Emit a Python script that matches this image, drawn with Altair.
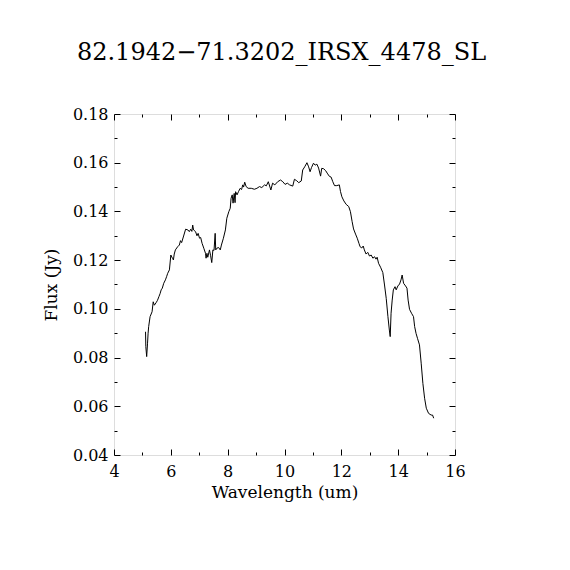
import altair as alt
import pandas as pd

title_text = "82.1942\u221271.3202_IRSX_4478_SL"

wavelength = [5.11, 5.12, 5.15, 5.18, 5.20, 5.22, 5.27, 5.34, 5.38, 5.42, 5.48, 5.53, 5.58, 5.62,
              5.66, 5.70, 5.75, 5.81, 5.85, 5.89, 5.95, 6.00, 6.06, 6.09, 6.12, 6.16, 6.24, 6.30,
              6.34, 6.38, 6.45, 6.52, 6.60, 6.65, 6.70, 6.74, 6.77, 6.80, 6.87, 6.92, 6.96, 7.01,
              7.05, 7.10, 7.16, 7.22, 7.24, 7.27, 7.30, 7.36, 7.40, 7.44, 7.48, 7.52, 7.56, 7.58,
              7.62, 7.68, 7.74, 7.78, 7.85, 7.92, 7.97, 8.04, 8.09, 8.12, 8.16, 8.19, 8.23, 8.26,
              8.28, 8.33, 8.38, 8.44, 8.49, 8.53, 8.56, 8.60, 8.65, 8.72, 8.83, 8.94, 9.03, 9.12,
              9.20, 9.30, 9.36, 9.43, 9.52, 9.58, 9.66, 9.76, 9.86, 9.94, 10.02, 10.10, 10.18,
              10.29, 10.35, 10.43, 10.50, 10.59, 10.64, 10.71, 10.79, 10.85, 10.90, 10.95, 11.02,
              11.08, 11.14, 11.20, 11.27, 11.31, 11.38, 11.45, 11.52, 11.58, 11.64, 11.70, 11.76,
              11.84, 11.93, 11.97, 12.02, 12.09, 12.17, 12.26, 12.32, 12.38, 12.43, 12.50, 12.56,
              12.62, 12.66, 12.72, 12.77, 12.81, 12.87, 12.93, 12.99, 13.05, 13.11, 13.17, 13.22,
              13.26, 13.31, 13.38, 13.46, 13.52, 13.58, 13.64, 13.69, 13.72, 13.75, 13.79, 13.83,
              13.89, 13.93, 13.99, 14.05, 14.10, 14.14, 14.19, 14.26, 14.31, 14.35, 14.40, 14.47,
              14.54, 14.58, 14.63, 14.68, 14.75, 14.81, 14.87, 14.93, 14.99, 15.07, 15.16, 15.21,
              15.25]

flux = [0.0906, 0.0845, 0.0804, 0.0859, 0.0900, 0.0927, 0.0968, 0.0988, 0.1029, 0.1015, 0.1025,
        0.1035, 0.1050, 0.1062, 0.1078, 0.1085, 0.1105, 0.1119, 0.1132, 0.1146, 0.1160, 0.1221,
        0.1207, 0.1201, 0.1225, 0.1242, 0.1255, 0.1262, 0.1280, 0.1272, 0.1299, 0.1327, 0.1324,
        0.1317, 0.1327, 0.1318, 0.1344, 0.1324, 0.1317, 0.1300, 0.1310, 0.1290, 0.1293, 0.1269,
        0.1249, 0.1228, 0.1208, 0.1228, 0.1212, 0.1242, 0.1218, 0.1190, 0.1242, 0.1240, 0.1310,
        0.1242, 0.1249, 0.1252, 0.1242, 0.1262, 0.1290, 0.1324, 0.1372, 0.1399, 0.1413, 0.1454,
        0.1468, 0.1434, 0.1474, 0.1436, 0.1481, 0.1468, 0.1481, 0.1495, 0.1490, 0.1509, 0.1500,
        0.1520, 0.1502, 0.1495, 0.1495, 0.1491, 0.1495, 0.1502, 0.1498, 0.1509, 0.1505, 0.1522,
        0.1488, 0.1516, 0.1509, 0.1522, 0.1529, 0.1522, 0.1511, 0.1516, 0.1509, 0.1504, 0.1532,
        0.1526, 0.1518, 0.1525, 0.1570, 0.1583, 0.1600, 0.1583, 0.1563, 0.1580, 0.1598, 0.1590,
        0.1594, 0.1578, 0.1545, 0.1577, 0.1575, 0.1567, 0.1554, 0.1544, 0.1541, 0.1522, 0.1506,
        0.1506, 0.1509, 0.1482, 0.1460, 0.1443, 0.1429, 0.1420, 0.1399, 0.1358, 0.1328, 0.1307,
        0.1290, 0.1269, 0.1255, 0.1250, 0.1258, 0.1242, 0.1225, 0.1232, 0.1217, 0.1221, 0.1208,
        0.1214, 0.1204, 0.1212, 0.1187, 0.1171, 0.1149, 0.1098, 0.1043, 0.0968, 0.0913, 0.0886,
        0.0982, 0.1036, 0.1078, 0.1091, 0.1078, 0.1094, 0.1102, 0.1119, 0.1139, 0.1105, 0.1094,
        0.1085, 0.1036, 0.0998, 0.0982, 0.0968, 0.0927, 0.0899, 0.0879, 0.0852, 0.0777, 0.0694,
        0.0633, 0.0592, 0.0571, 0.0564, 0.0564, 0.0551]

x_major = [4, 6, 8, 10, 12, 14, 16]
x_minor = [5, 7, 9, 11, 13, 15]
y_major = [0.04, 0.06, 0.08, 0.10, 0.12, 0.14, 0.16, 0.18]
y_minor = [0.05, 0.07, 0.09, 0.11, 0.13, 0.15, 0.17]

df = pd.DataFrame({"w": wavelength, "f": flux})

FONT = "DejaVu Serif"
xscale = alt.Scale(domain=[4, 16], nice=False, zero=False)
yscale = alt.Scale(domain=[0.04, 0.18], nice=False, zero=False)

def tick_axis(orient, values, size):
    return alt.Axis(orient=orient, values=values, tickSize=size, offset=-size,
                    labels=False, domain=False, grid=False, title=None,
                    tickColor="black", tickWidth=1)

base = alt.Chart(df)

main = base.mark_line(color="black", strokeWidth=1).encode(
    x=alt.X("w:Q", scale=xscale,
            axis=alt.Axis(orient="bottom", values=x_major, format="d", ticks=False, tickSize=0,
                          domain=False, grid=False, labelPadding=8, labelFont=FONT,
                          labelFontSize=16, labelColor="black", labelFlush=False,
                          labelOverlap=False, title="Wavelength (um)",
                          titleFont=FONT, titleFontSize=17, titleFontWeight="normal",
                          titleColor="black", titlePadding=5)),
    y=alt.Y("f:Q", scale=yscale,
            axis=alt.Axis(orient="left", values=y_major, format=".2f", ticks=False, tickSize=0,
                          domain=False, grid=False, labelPadding=6, labelFont=FONT,
                          labelFontSize=16, labelColor="black", labelFlush=False,
                          labelOverlap=False, title="Flux (Jy)",
                          titleFont=FONT, titleFontSize=17, titleFontWeight="normal",
                          titleColor="black", titlePadding=12)),
)

def ghost(xo, xv, yo, yv, size):
    return base.mark_line(strokeOpacity=0).encode(
        x=alt.X("w:Q", scale=xscale, axis=tick_axis(xo, xv, size)),
        y=alt.Y("f:Q", scale=yscale, axis=tick_axis(yo, yv, size)),
    )

chart = alt.layer(
    main,
    ghost("bottom", x_major, "left", y_major, 6),
    ghost("bottom", x_minor, "left", y_minor, 3),
    ghost("top", x_major, "right", y_major, 6),
    ghost("top", x_minor, "right", y_minor, 3),
).resolve_axis(x="independent", y="independent").properties(
    width=341, height=341,
    title=alt.TitleParams(title_text, font=FONT, fontSize=24, fontWeight="normal",
                          color="black", anchor="middle", frame="group",
                          baseline="alphabetic", offset=22, dx=-3),
    autosize=alt.AutoSizeParams(type="none"),
    padding={"left": 106, "top": 106, "right": 107, "bottom": 107},
).configure_view(stroke="black", strokeWidth=1).configure(background="white")

chart.save("out.html", embed_options={"renderer": "svg", "actions": False})
